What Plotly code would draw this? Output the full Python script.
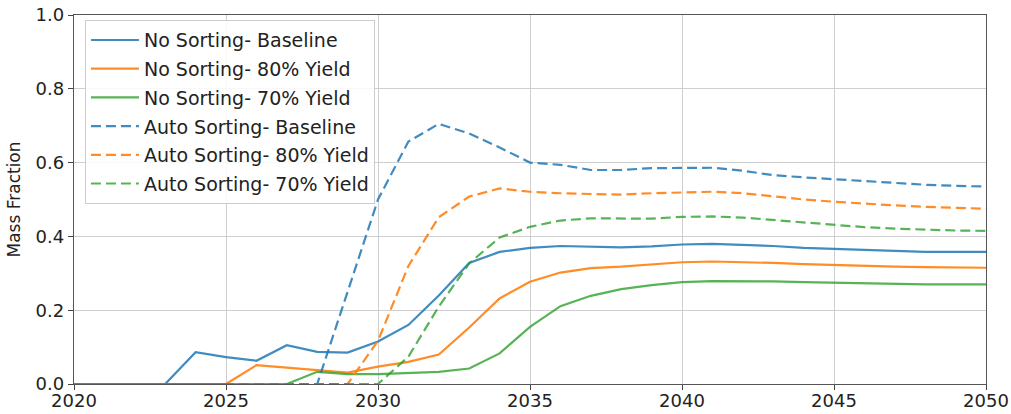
import plotly.graph_objects as go

years = list(range(2020, 2051))

no_sort_baseline = [0, 0, 0, 0, 0.086, 0.073, 0.063, 0.105, 0.087, 0.085,
                    0.115, 0.16, 0.24, 0.328, 0.358, 0.369, 0.374, 0.373, 0.370, 0.373,
                    0.378, 0.380, 0.378, 0.374, 0.369, 0.366, 0.362, 0.360, 0.358, 0.358,
                    0.358]
no_sort_80 = [0, 0, 0, 0, 0, 0, 0.051, 0.044, 0.036, 0.031,
              0.047, 0.060, 0.080, 0.153, 0.232, 0.277, 0.302, 0.314, 0.318, 0.324,
              0.330, 0.332, 0.331, 0.328, 0.325, 0.322, 0.320, 0.318, 0.317, 0.316,
              0.315]
no_sort_70 = [0, 0, 0, 0, 0, 0, 0, 0, 0.033, 0.027,
              0.027, 0.030, 0.033, 0.042, 0.083, 0.155, 0.211, 0.239, 0.257, 0.268,
              0.276, 0.279, 0.279, 0.278, 0.276, 0.274, 0.272, 0.271, 0.270, 0.270,
              0.270]
auto_baseline = [0, 0, 0, 0, 0, 0, 0, 0, 0, 0.25,
                 0.50, 0.657, 0.705, 0.679, 0.641, 0.600, 0.594, 0.580, 0.580, 0.585,
                 0.586, 0.586, 0.578, 0.566, 0.560, 0.555, 0.548, 0.544, 0.540, 0.537,
                 0.535]
auto_80 = [0, 0, 0, 0, 0, 0, 0, 0, 0, 0,
           0.117, 0.320, 0.452, 0.508, 0.530, 0.521, 0.517, 0.515, 0.513, 0.517,
           0.520, 0.521, 0.517, 0.508, 0.500, 0.494, 0.488, 0.484, 0.480, 0.478,
           0.475]
auto_70 = [0, 0, 0, 0, 0, 0, 0, 0, 0, 0,
           0, 0.074, 0.210, 0.327, 0.397, 0.426, 0.443, 0.449, 0.449, 0.448,
           0.453, 0.454, 0.451, 0.444, 0.437, 0.430, 0.425, 0.421, 0.418, 0.416,
           0.415]

names = ["No Sorting- Baseline", "No Sorting- 80% Yield", "No Sorting- 70% Yield",
         "Auto Sorting- Baseline", "Auto Sorting- 80% Yield", "Auto Sorting- 70% Yield"]
series = [no_sort_baseline, no_sort_80, no_sort_70, auto_baseline, auto_80, auto_70]
colors = ["rgba(31,119,180,0.85)", "rgba(255,127,14,0.9)", "rgba(44,160,44,0.8)"] * 2
dashes = ["solid"] * 3 + ["10px,5px"] * 3

fig = go.Figure()
for i, (name, vals) in enumerate(zip(names, series)):
    fig.add_trace(go.Scatter(
        x=years, y=vals, name=name, mode="lines",
        line=dict(color=colors[i], width=2.2, dash=dashes[i]),
        legendgroup=f"g{i}",
    ))

axis_common = dict(
    showline=True, linecolor="#555555", linewidth=1.4, mirror=True,
    showgrid=True, gridcolor="#cfcfcf", gridwidth=1,
    ticks="outside", ticklen=5, tickcolor="#444444",
    tickfont=dict(family="DejaVu Sans", size=18, color="#222222"),
    zeroline=False, automargin=False,
)

fig.update_xaxes(range=[2020, 2050], dtick=5, tick0=2020, ticklabelstandoff=-5, **axis_common)
fig.update_yaxes(range=[0, 1.0], dtick=0.2, tickformat=".1f",
                 title=dict(text="Mass Fraction", font=dict(family="DejaVu Sans", size=17, color="#222222"),
                            standoff=10),
                 **axis_common)

fig.update_layout(
    width=1011, height=414,
    margin=dict(l=74, r=25, t=15, b=30),
    plot_bgcolor="white", paper_bgcolor="white",
    font=dict(family="DejaVu Sans", size=18, color="#222222"),
    legend=dict(
        x=0.012, y=0.986, xanchor="left", yanchor="top",
        bgcolor="rgba(255,255,255,0.85)", bordercolor="#cccccc", borderwidth=1,
        font=dict(family="DejaVu Sans", size=19, color="#222222"),
        traceorder="grouped", tracegroupgap=1,
        itemwidth=48,
    ),
    showlegend=True,
)

fig.write_html("out.html")
